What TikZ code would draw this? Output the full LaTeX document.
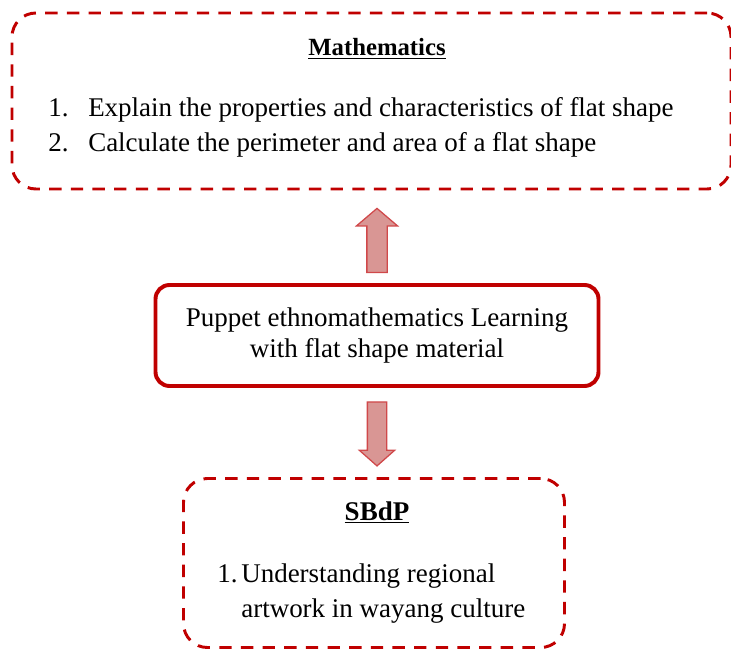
\documentclass[tikz,border=0pt]{standalone}
\usepackage{fontspec}
\setmainfont{Liberation Serif}
\usepackage{xcolor}
\usepackage{tikz}
\usetikzlibrary{arrows.meta, positioning, calc, shapes.arrows}

\definecolor{boxred}{HTML}{C00000}
\definecolor{arrfill}{HTML}{D99694}
\definecolor{arrline}{HTML}{D0484A}

\begin{document}
\begin{tikzpicture}[
    font=\fontsize{19.2}{24.9}\selectfont,
    topicbox/.style={draw=boxred, line width=2.1pt,
        dash pattern=on 8.8pt off 6.6pt, rounded corners=17pt},
    learnbox/.style={draw=boxred, line width=2.8pt, rounded corners=10pt,
        minimum width=11.075cm, minimum height=2.525cm, align=center,
        font=\fontsize{19.2}{22}\selectfont},
    titletext/.style={font=\fontsize{#1}{24}\selectfont\bfseries,
        anchor=base, inner sep=0pt},
    listtext/.style={anchor=base west, inner sep=0pt},
    blockarrow/.style={single arrow, draw=arrline, fill=arrfill,
        line width=0.9pt, minimum height=1.6cm, inner sep=#1},
    uparr/.style={blockarrow=0.2375cm, shape border rotate=90,
        single arrow head extend=0.26cm, single arrow tip angle=99},
    downarr/.style={blockarrow=0.225cm, shape border rotate=270,
        single arrow head extend=0.2cm, single arrow tip angle=97},
]
\useasboundingbox (0,0) rectangle (18.275,16.25);
\clip (0,0) rectangle (18.275,16.25);

%% ========== MATHEMATICS (top) ==========
\node[topicbox, minimum width=17.975cm, minimum height=4.4cm] (math) at (9.2875, 13.725) {};
\node[titletext=17.6] (mathtitle) at (9.425, 14.85) {\underline{Mathematics}};
\node[listtext] (mathlist) at (1.2, 13.325) {%
\begin{tabular}[t]{@{}p{1cm}@{}l@{}}
1. & Explain the properties and characteristics of flat shape\\
2. & Calculate the perimeter and area of a flat shape
\end{tabular}};

%% ========== LEARNING (middle) ==========
\node[learnbox] (learn) at (9.425, 7.8625)
    {Puppet ethnomathematics Learning\\with flat shape material};

%% ========== SBdP (bottom) ==========
\node[topicbox, minimum width=9.525cm, minimum height=4.225cm] (sbdp) at (9.35, 2.175) {};
\node[titletext=19.2] (sbdptitle) at (9.425, 3.25) {\underline{SBdP}};
\node[listtext, font=\fontsize{19.2}{25.6}\selectfont] (sbdplist) at (5.425, 1.7) {%
\begin{tabular}[t]{@{}p{0.6cm}@{}l@{}}
1. & Understanding regional\\
   & artwork in wayang culture
\end{tabular}};

%% ========== BLOCK ARROWS ==========
\path (learn.north) -- (learn.north |- math.south)
    node[pos=0.414, uparr] (toMath) {};
\path (learn.south) -- (learn.south |- sbdp.north)
    node[pos=0.468, downarr] (toSbdp) {};
\end{tikzpicture}
\end{document}
